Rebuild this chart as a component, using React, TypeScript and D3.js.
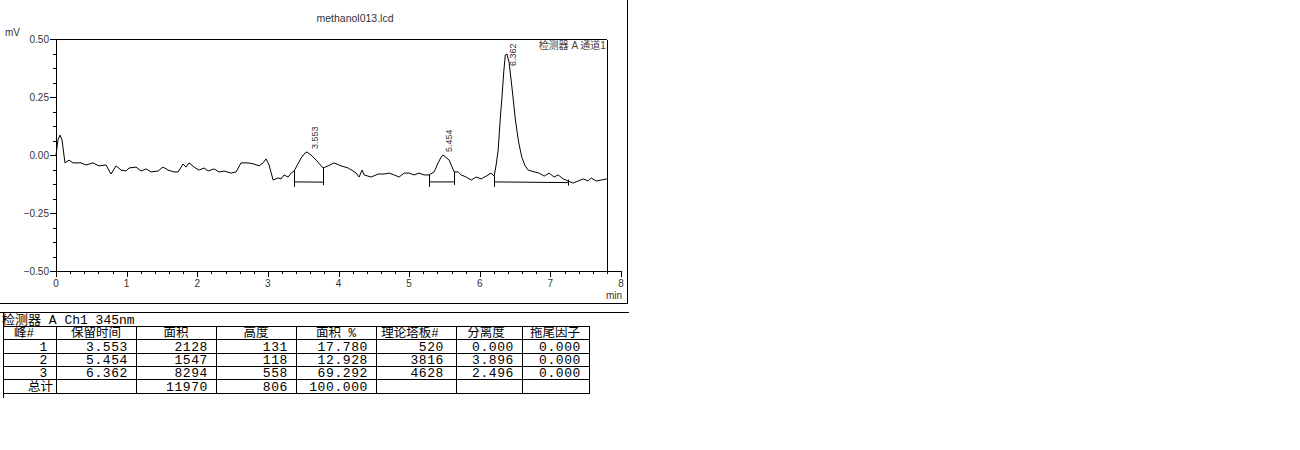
import React from 'react';
import * as d3 from 'd3';

// chromatogram trace: [time (min), signal (mV)]
const signal: [number, number][] = [
  [0.0, 0.0], [0.028, 0.065], [0.057, 0.086], [0.085, 0.065], [0.127, -0.034], [0.184, -0.022],
  [0.241, -0.034], [0.354, -0.034], [0.425, -0.043], [0.524, -0.034], [0.609, -0.047], [0.708, -0.043],
  [0.779, -0.082], [0.85, -0.047], [0.921, -0.065], [0.992, -0.069], [1.034, -0.056], [1.133, -0.052],
  [1.204, -0.069], [1.275, -0.06], [1.346, -0.073], [1.445, -0.069], [1.516, -0.052], [1.586, -0.065],
  [1.671, -0.073], [1.728, -0.073], [1.799, -0.039], [1.841, -0.052], [1.884, -0.034], [1.955, -0.052],
  [2.025, -0.065], [2.096, -0.056], [2.153, -0.069], [2.238, -0.06], [2.309, -0.073], [2.38, -0.069],
  [2.479, -0.078], [2.55, -0.073], [2.62, -0.034], [2.72, -0.034], [2.805, -0.039], [2.875, -0.047],
  [2.932, -0.034], [2.975, -0.017], [3.017, -0.043], [3.074, -0.108], [3.144, -0.099], [3.187, -0.103],
  [3.229, -0.086], [3.286, -0.095], [3.329, -0.078], [3.371, -0.069], [3.47, -0.013], [3.527, 0.009],
  [3.555, 0.013], [3.626, -0.004], [3.683, -0.022], [3.782, -0.056], [3.853, -0.047], [3.938, -0.034],
  [4.037, -0.047], [4.136, -0.056], [4.207, -0.069], [4.249, -0.078], [4.292, -0.095], [4.334, -0.065],
  [4.363, -0.086], [4.462, -0.095], [4.561, -0.082], [4.646, -0.082], [4.717, -0.078], [4.788, -0.086],
  [4.858, -0.095], [4.929, -0.078], [5.0, -0.078], [5.071, -0.086], [5.142, -0.078], [5.212, -0.086],
  [5.283, -0.086], [5.354, -0.073], [5.411, -0.034], [5.453, -0.009], [5.48, 0.0], [5.567, -0.022],
  [5.637, -0.073], [5.694, -0.073], [5.737, -0.086], [5.807, -0.095], [5.878, -0.108], [5.949, -0.095],
  [6.02, -0.103], [6.091, -0.091], [6.161, -0.078], [6.204, -0.091], [6.232, -0.043], [6.261, 0.022],
  [6.289, 0.151], [6.317, 0.259], [6.342, 0.366], [6.362, 0.431], [6.385, 0.435], [6.415, 0.401],
  [6.46, 0.28], [6.505, 0.151], [6.55, 0.056], [6.595, -0.009], [6.643, -0.047], [6.686, -0.065],
  [6.771, -0.073], [6.841, -0.078], [6.912, -0.091], [6.983, -0.078], [7.054, -0.095], [7.11, -0.086],
  [7.181, -0.103], [7.252, -0.112], [7.323, -0.121], [7.394, -0.112], [7.465, -0.103], [7.535, -0.112],
  [7.578, -0.099], [7.649, -0.112], [7.72, -0.108], [7.8, -0.103],
];

const peakRT = [3.553, 5.454, 6.362];
const peakStart = [3.371, 5.283, 6.204];
const peakEnd = [3.782, 5.637, 7.252];
const peakBaseStart = [-0.116, -0.116, -0.116];
const peakBaseEnd = [-0.117, -0.116, -0.119];

const yTicks = [0.5, 0.25, 0, -0.25, -0.5];
const xTicks = [0, 1, 2, 3, 4, 5, 6, 7, 8];

const chartTitle = 'methanol013.lcd';
const channelLabel = '检测器 A 通道1';
const yUnit = 'mV';
const xUnit = 'min';

const tableTitle = '检测器 A Ch1 345nm';
const tableHeaders = ['峰#', '保留时间', '面积', '高度', '面积 %', '理论塔板#', '分离度', '拖尾因子'];
const peakNo = ['1', '2', '3'];
const retTimes = ['3.553', '5.454', '6.362'];
const areas = ['2128', '1547', '8294'];
const heights = ['131', '118', '558'];
const areaPct = ['17.780', '12.928', '69.292'];
const plates = ['520', '3816', '4628'];
const resolution = ['0.000', '3.896', '2.496'];
const tailing = ['0.000', '0.000', '0.000'];
const totals = ['总计', '', '11970', '806', '100.000', '', '', ''];

const chartFont = '"Liberation Sans", Arial, "Noto Sans CJK SC", sans-serif';
const tableFont = '"Liberation Mono", "Noto Sans CJK SC", monospace';

export default function App() {
  const x = d3.scaleLinear().domain([0, 8]).range([56, 621]);
  const y = d3.scaleLinear().domain([-0.5, 0.5]).range([271, 39]);
  const plotRight = x(7.8);

  const line = d3
    .line<[number, number]>()
    .x((d) => x(d[0]))
    .y((d) => y(d[1]));

  const valueAt = (t: number) => {
    const i = d3.bisector((d: [number, number]) => d[0]).left(signal, t);
    if (i <= 0) return signal[0][1];
    if (i >= signal.length) return signal[signal.length - 1][1];
    const a = signal[i - 1];
    const b = signal[i];
    return a[1] + ((b[1] - a[1]) * (t - a[0])) / (b[0] - a[0]);
  };

  const peakTop = (rt: number) =>
    d3.max(signal.filter((d) => Math.abs(d[0] - rt) < 0.12), (d) => d[1]) ?? 0;

  const xMinor = d3.range(0, 8.001, 0.2).filter((v) => Math.abs(v - Math.round(v)) > 1e-6);
  const yMinor = d3.range(-0.5, 0.5001, 0.0625).filter((v) => Math.abs(v * 4 - Math.round(v * 4)) > 1e-6);

  const cols = [3, 56, 136, 216, 296, 376, 456, 522, 589];
  const rowTops = [325.5, 339, 352.5, 366, 379, 392.5];
  const tableRows = peakNo.map((_, i) => [
    peakNo[i], retTimes[i], areas[i], heights[i], areaPct[i], plates[i], resolution[i], tailing[i],
  ]);
  tableRows.push(totals);
  const headerX = [24, 96, 176, 256, 336, 410, 486, 555];
  const rightPad = [8, 8, 8, 8, 8, 12, 8, 8];

  return (
    <svg
      width={1300}
      height={450}
      style={{ position: 'absolute', left: 0, top: 0, background: '#fff' }}
      fontFamily={chartFont}
    >
      {/* outer frame */}
      <g stroke="#000" strokeWidth={1} shapeRendering="crispEdges">
        <line x1={627.5} y1={0} x2={627.5} y2={303.5} />
        <line x1={0} y1={303.5} x2={627.5} y2={303.5} />
        <line x1={0} y1={312.5} x2={629} y2={312.5} />
      </g>

      <text x={355} y={22} fontSize={10.5} textAnchor="middle" fill="#333">
        {chartTitle}
      </text>
      <text x={5} y={36} fontSize={10} fill="#333">
        {yUnit}
      </text>

      {/* plot frame */}
      <g stroke="#000" strokeWidth={1} shapeRendering="crispEdges" fill="none">
        <line x1={x(0) + 0.5} y1={y(0.5) + 0.5} x2={plotRight + 0.5} y2={y(0.5) + 0.5} />
        <line x1={plotRight + 0.5} y1={y(0.5) + 0.5} x2={plotRight + 0.5} y2={y(-0.5) + 0.5} />
        <line x1={x(0) + 0.5} y1={y(0.5)} x2={x(0) + 0.5} y2={y(-0.5) + 0.5} />
        <line x1={x(0)} y1={y(-0.5) + 0.5} x2={x(8) + 1} y2={y(-0.5) + 0.5} />
      </g>

      {/* ticks */}
      <g stroke="#000" shapeRendering="crispEdges">
        {yTicks.map((v) => (
          <line key={'ym' + v} x1={x(0) - 6} x2={x(0)} y1={Math.round(y(v)) + 0.5} y2={Math.round(y(v)) + 0.5} />
        ))}
        {yMinor.map((v) => (
          <line key={'yn' + v} x1={x(0) - 3} x2={x(0)} y1={Math.round(y(v)) + 0.5} y2={Math.round(y(v)) + 0.5} />
        ))}
        {xTicks.map((v) => (
          <line key={'xm' + v} x1={Math.round(x(v)) + 0.5} x2={Math.round(x(v)) + 0.5} y1={y(-0.5)} y2={y(-0.5) + 6} />
        ))}
        {xMinor.map((v) => (
          <line key={'xn' + v} x1={Math.round(x(v)) + 0.5} x2={Math.round(x(v)) + 0.5} y1={y(-0.5)} y2={y(-0.5) + 3} />
        ))}
      </g>
      <g fontSize={10} fill="#333">
        {yTicks.map((v) => (
          <text key={'yl' + v} x={x(0) - 7} y={y(v) + 3.5} textAnchor="end">
            {d3.format('.2f')(v)}
          </text>
        ))}
        {xTicks.map((v) => (
          <text key={'xl' + v} x={x(v)} y={y(-0.5) + 16} textAnchor="middle">
            {v}
          </text>
        ))}
        <text x={x(8) + 1} y={y(-0.5) + 28} textAnchor="end">
          {xUnit}
        </text>
      </g>

      <text x={plotRight - 1} y={49} fontSize={10} textAnchor="end" fill="#444">
        {channelLabel}
      </text>

      {/* trace */}
      <path d={line(signal) ?? ''} fill="none" stroke="#000" strokeWidth={1} />

      {/* integration baselines and markers */}
      <g stroke="#000" strokeWidth={1} fill="none">
        {peakRT.map((rt, i) => {
          const xs = Math.round(x(peakStart[i])) + 0.5;
          const xe = Math.round(x(peakEnd[i])) + 0.5;
          const ys = y(peakBaseStart[i]);
          const ye = y(peakBaseEnd[i]);
          const ts = y(valueAt(peakStart[i]));
          const te = y(valueAt(peakEnd[i]));
          return (
            <g key={'pk' + i}>
              <line x1={xs} y1={ys} x2={xe} y2={ye} />
              <line x1={xs} y1={Math.min(ts, ys - 3)} x2={xs} y2={ys + 5} />
              <line x1={xe} y1={Math.min(te, ye - 3)} x2={xe} y2={ye + 3} />
            </g>
          );
        })}
      </g>
      <g fontSize={9} fill="#333">
        {peakRT.map((rt, i) => {
          const len = 23;
          let yb = y(peakTop(rt)) - 3;
          if (yb - len < 43) yb = 43 + len;
          const xb = x(rt) + 11;
          return (
            <text key={'pl' + i} transform={`translate(${xb},${yb}) rotate(-90)`}>
              {d3.format('.3f')(rt)}
            </text>
          );
        })}
      </g>

      {/* table */}
      <g fontFamily={tableFont} fill="#000">
        <text x={2} y={324} fontSize={13}>
          {tableTitle}
        </text>
        <g stroke="#000" strokeWidth={1} shapeRendering="crispEdges">
          <line x1={3.5} y1={312.5} x2={3.5} y2={398} />
          {rowTops.map((r, i) => (
            <line key={'r' + i} x1={3} y1={Math.round(r) + 0.5} x2={cols[cols.length - 1] + 1} y2={Math.round(r) + 0.5} />
          ))}
          {cols.slice(1).map((c, i) => (
            <line key={'c' + i} x1={c + 0.5} y1={Math.round(rowTops[0])} x2={c + 0.5} y2={Math.round(rowTops[rowTops.length - 1]) + 1} />
          ))}
        </g>
        {tableHeaders.map((h, j) => (
          <text key={'h' + j} x={headerX[j]} y={rowTops[1] - 2} fontSize={12.5} textAnchor="middle">
            {h}
          </text>
        ))}
        {tableRows.map((row, i) =>
          row.map((cell, j) => {
            const isLabel = i === 3 && j === 0;
            return (
              <text
                key={'t' + i + '-' + j}
                x={cols[j + 1] - (isLabel ? 3 : rightPad[j])}
                y={rowTops[i + 2] - 2}
                fontSize={isLabel ? 12.5 : 13}
                letterSpacing={isLabel ? 0 : 0.6}
                textAnchor="end"
              >
                {cell}
              </text>
            );
          }),
        )}
      </g>
    </svg>
  );
}
